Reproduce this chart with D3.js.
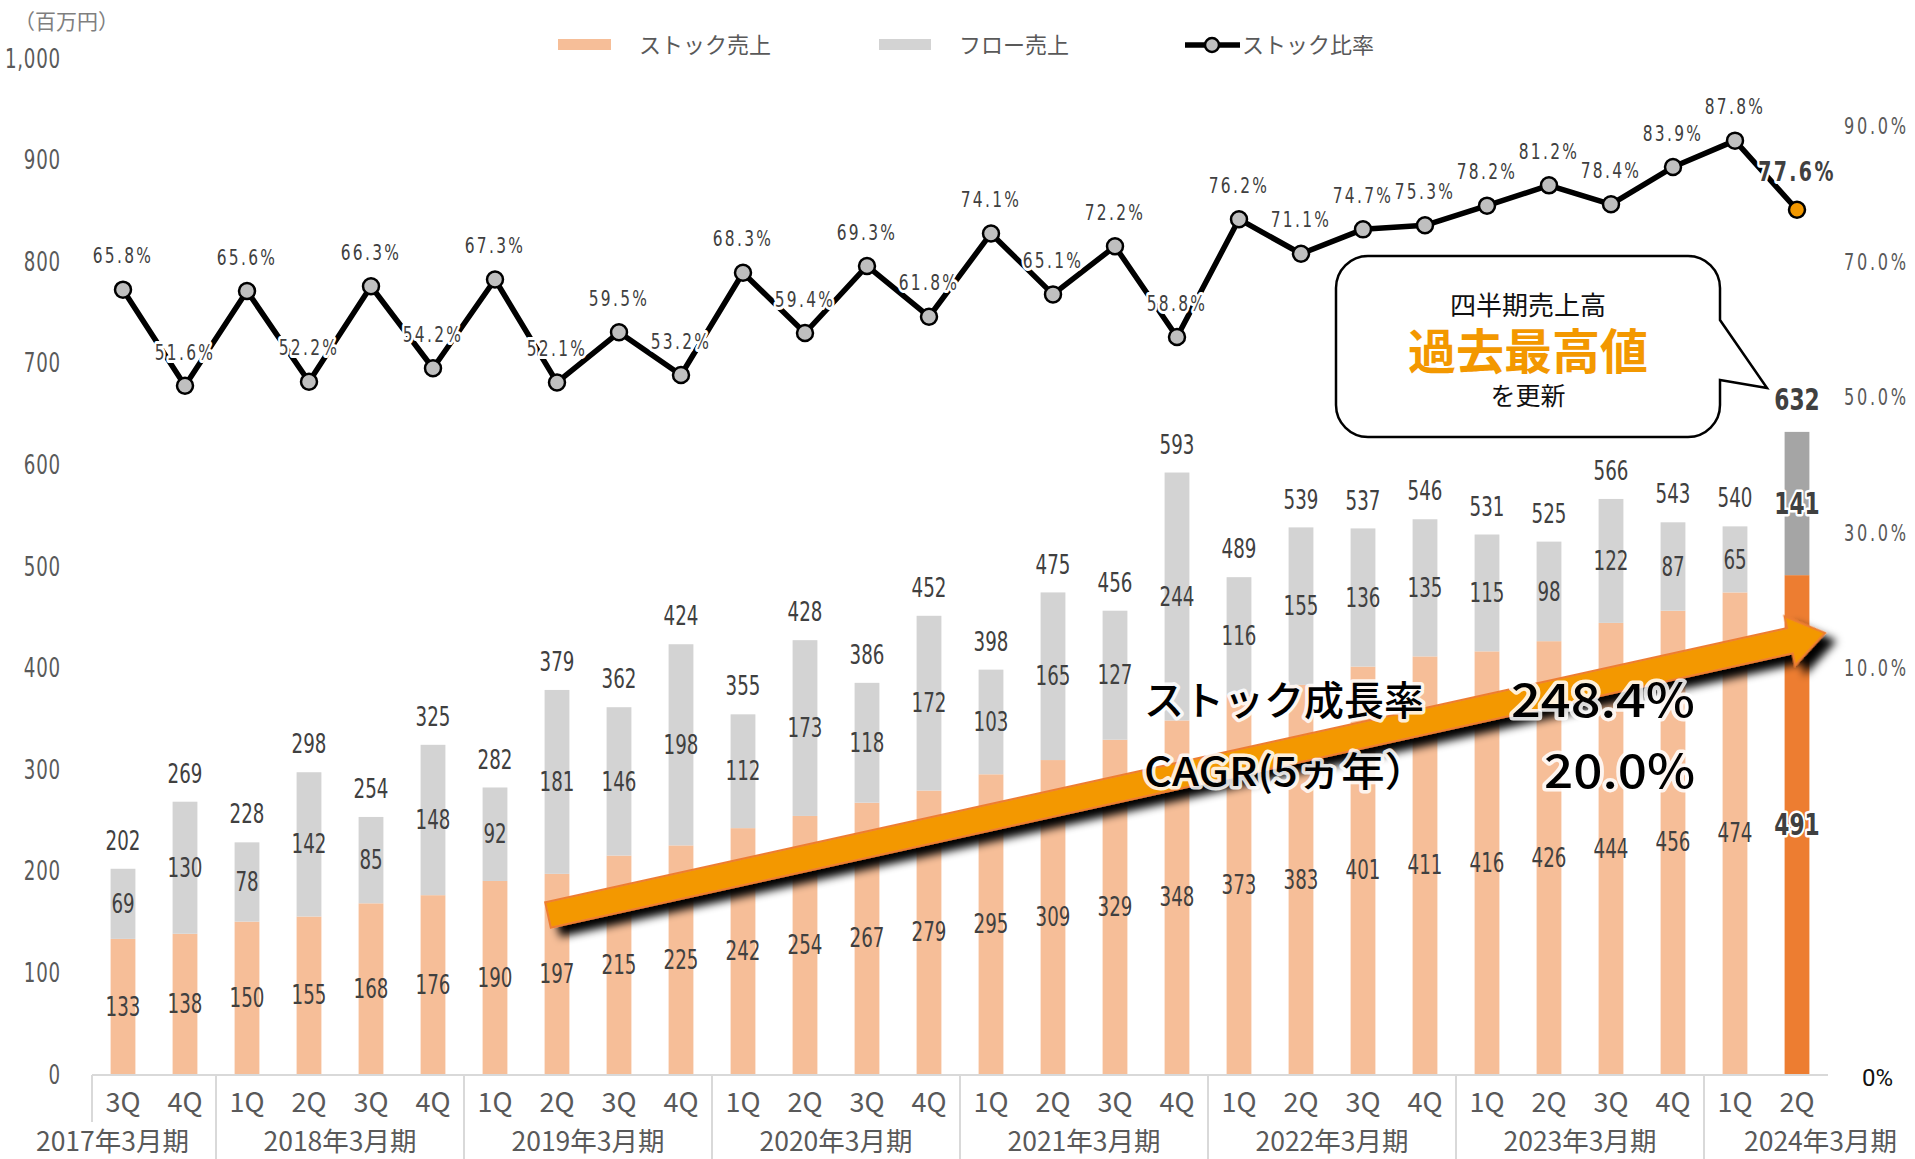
<!DOCTYPE html>
<html><head><meta charset="utf-8">
<script src="https://cdn.jsdelivr.net/npm/d3@7"></script>
<style>
html,body{margin:0;padding:0;background:#fff;}
svg{display:block;}
</style></head><body>
<svg id="chart" width="1915" height="1159"></svg>
<script>
// ---------- data ----------
const quarters = ["3Q","4Q","1Q","2Q","3Q","4Q","1Q","2Q","3Q","4Q","1Q","2Q","3Q","4Q","1Q","2Q","3Q","4Q","1Q","2Q","3Q","4Q","1Q","2Q","3Q","4Q","1Q","2Q"];
const years = ["2017年3月期","2018年3月期","2019年3月期","2020年3月期","2021年3月期","2022年3月期","2023年3月期","2024年3月期"];
const yearSizes = [2,4,4,4,4,4,4,2];
const stock = [133,138,150,155,168,176,190,197,215,225,242,254,267,279,295,309,329,348,373,383,401,411,416,426,444,456,474,491];
const flow  = [69,130,78,142,85,148,92,181,146,198,112,173,118,172,103,165,127,244,116,155,136,135,115,98,122,87,65,141];
const totals = [202,269,228,298,254,325,282,379,362,424,355,428,386,452,398,475,456,593,489,539,537,546,531,525,566,543,540,632];
const ratio = [65.8,51.6,65.6,52.2,66.3,54.2,67.3,52.1,59.5,53.2,68.3,59.4,69.3,61.8,74.1,65.1,72.2,58.8,76.2,71.1,74.7,75.3,78.2,81.2,78.4,83.9,87.8,77.6];
const leftTicks = [0,100,200,300,400,500,600,700,800,900,1000];
const rightTicks = [10,30,50,70,90];
const legendLabels = ["ストック売上","フロー売上","ストック比率"];
const unitLabel = "（百万円）";
const calloutLines = ["四半期売上高","過去最高値","を更新"];
const arrowTexts = [["ストック成長率","248.4%"],["CAGR(5ヵ年）","20.0%"]];

// ---------- setup ----------
const svg = d3.select("#chart");
const N = stock.length;
const NUM = '"DejaVu Sans Condensed","DejaVu Sans",sans-serif';
const JP = '"Noto Sans CJK JP","Noto Sans",sans-serif';
const C_STOCK = "#F6BE98", C_FLOW = "#D3D3D3", C_STOCK_LAST = "#ED7D31", C_FLOW_LAST = "#A5A5A5";
const LBL = "#404040", TICK = "#595959";
const SX = 0.78; // horizontal squeeze for the narrow numeric font

const x = d3.scaleBand().domain(d3.range(N)).range([92,1828]).padding(0);
const step = x.step();
const cx = i => x(i) + step/2;
const barW = step*0.4;
const y = d3.scaleLinear().domain([0,1000]).range([1074,58]);
const yR = d3.scaleLinear().domain([-50,100]).range([1074,58]);

const defs = svg.append("defs");
const f = defs.append("filter").attr("id","shadow").attr("x","-10%").attr("y","-60%").attr("width","125%").attr("height","260%");
f.append("feGaussianBlur").attr("in","SourceAlpha").attr("stdDeviation",4).attr("result","b");
f.append("feOffset").attr("in","b").attr("dx",8).attr("dy",10).attr("result","o");
const fm = f.append("feMerge"); fm.append("feMergeNode").attr("in","o"); fm.append("feMergeNode").attr("in","SourceGraphic");

// ---------- axes ----------
const gL = svg.append("g").attr("transform","translate(61,0)")
  .call(d3.axisLeft(y).tickValues(leftTicks).tickSize(0).tickPadding(0).tickFormat(d3.format(",")));
gL.select(".domain").remove();
gL.selectAll("text").attr("font-family",NUM).attr("font-size",26).attr("fill",TICK).attr("letter-spacing",1)
  .attr("dy","0.35em").attr("transform",`scale(${SX},1)`);

const gR = svg.append("g").attr("transform","translate(1844,0)")
  .call(d3.axisRight(yR).tickValues(rightTicks).tickSize(0).tickPadding(0).tickFormat(d=>d.toFixed(1)+"%"));
gR.select(".domain").remove();
gR.selectAll("text").attr("font-family",NUM).attr("font-size",23).attr("fill",TICK).attr("letter-spacing",3.5)
  .attr("dy","0.35em").attr("transform",`scale(${SX},1)`);
svg.append("text").attr("x",1862).attr("y",1078).attr("dy","0.35em").attr("font-family","Roboto,sans-serif").attr("font-size",24).attr("fill","#111").text("0%");

svg.append("text").attr("x",14).attr("y",22).attr("dy","0.35em").attr("font-family",JP).attr("font-size",21).attr("fill","#7F7F7F").text(unitLabel);

// category axis
const gx = svg.append("g");
gx.append("line").attr("x1",x(0)).attr("x2",x(N-1)+step).attr("y1",y(0)+1).attr("y2",y(0)+1).attr("stroke","#D9D9D9").attr("stroke-width",2);
let start = 0;
const groups = yearSizes.map((s,gi)=>{ const g={gi,start,end:start+s-1}; start+=s; return g; });
gx.append("line").attr("x1",x(0)).attr("x2",x(0)).attr("y1",y(0)+1).attr("y2",1122).attr("stroke","#D9D9D9").attr("stroke-width",2);
groups.slice(1).forEach(g=>{
  gx.append("line").attr("x1",x(g.start)).attr("x2",x(g.start)).attr("y1",y(0)+1).attr("y2",1159).attr("stroke","#D9D9D9").attr("stroke-width",2);
});
gx.selectAll("text.q").data(quarters).join("text").attr("class","q")
  .attr("x",(d,i)=>cx(i)).attr("y",1103).attr("dy","0.35em").attr("text-anchor","middle")
  .attr("font-family",JP).attr("font-size",27).attr("fill",TICK).text(d=>d);
gx.selectAll("text.yr").data(groups).join("text").attr("class","yr")
  .attr("x",g=> g.gi===0 ? x(g.end)+step-27 : g.gi===groups.length-1 ? x(g.start)+40 : (x(g.start)+x(g.end)+step)/2)
  .attr("text-anchor",g=> g.gi===0 ? "end" : g.gi===groups.length-1 ? "start" : "middle")
  .attr("y",1142).attr("dy","0.35em").attr("font-family",JP).attr("font-size",26.5).attr("fill",TICK).text(g=>years[g.gi]);

// ---------- bars ----------
const gb = svg.append("g");
gb.selectAll("rect.s").data(stock).join("rect").attr("class","s")
  .attr("x",(d,i)=>cx(i)-barW/2).attr("width",barW)
  .attr("y",d=>y(d)).attr("height",d=>y(0)-y(d))
  .attr("fill",(d,i)=> i===N-1 ? C_STOCK_LAST : C_STOCK);
gb.selectAll("rect.f").data(flow).join("rect").attr("class","f")
  .attr("x",(d,i)=>cx(i)-barW/2).attr("width",barW)
  .attr("y",(d,i)=>y(stock[i]+d)).attr("height",(d,i)=>y(stock[i])-y(stock[i]+d))
  .attr("fill",(d,i)=> i===N-1 ? C_FLOW_LAST : C_FLOW);

const isLast = i => i===N-1;
function numLabel(sel, fx, fy){
  sel.attr("transform",(d,i)=>`translate(${fx(d,i)},${fy(d,i)}) scale(${SX},1)`)
    .attr("text-anchor","middle").attr("dy","0.35em").attr("font-family",NUM)
    .attr("font-size",(d,i)=> isLast(i) ? 31 : 26).attr("font-weight",(d,i)=> isLast(i) ? "bold" : "normal")
    .attr("fill",LBL)
    .attr("stroke",(d,i)=> isLast(i) ? "#fff" : "none").attr("stroke-width",5).attr("stroke-linejoin","round")
    .attr("paint-order","stroke");
}
gb.selectAll("text.sl").data(stock).join("text").attr("class","sl").text(d=>d)
  .call(numLabel,(d,i)=>cx(i),d=>(y(0)+y(d))/2);
gb.selectAll("text.fl").data(flow).join("text").attr("class","fl").text(d=>d)
  .call(numLabel,(d,i)=>cx(i),(d,i)=>(y(stock[i])+y(stock[i]+d))/2);
gb.selectAll("text.tl").data(totals).join("text").attr("class","tl").text(d=>d)
  .call(numLabel,(d,i)=>cx(i),(d,i)=>y(stock[i]+flow[i]) - (isLast(i)?33:28));

// ---------- line ----------
const gLn = svg.append("g");
gLn.append("path").datum(ratio)
  .attr("d",d3.line().x((d,i)=>cx(i)).y(d=>yR(d)))
  .attr("fill","none").attr("stroke","#000").attr("stroke-width",5.5).attr("stroke-linejoin","round");
gLn.selectAll("circle").data(ratio).join("circle")
  .attr("cx",(d,i)=>cx(i)).attr("cy",d=>yR(d)).attr("r",8)
  .attr("fill",(d,i)=> isLast(i) ? "#F39800" : "#BFBFBF").attr("stroke","#000").attr("stroke-width",2.5);
gLn.selectAll("text").data(ratio).join("text")
  .attr("transform",(d,i)=>`translate(${cx(i)},${yR(d)-(isLast(i)?38:34)}) scale(${SX},1)`)
  .attr("dy","0.35em").attr("text-anchor","middle")
  .attr("font-family",NUM).attr("font-size",(d,i)=>isLast(i)?27:22).attr("font-weight",(d,i)=>isLast(i)?"bold":"normal")
  .attr("letter-spacing",3).attr("fill",LBL)
  .attr("stroke","#fff").attr("stroke-width",6).attr("stroke-linejoin","round").attr("paint-order","stroke")
  .text(d=>d.toFixed(1)+"%");

// ---------- legend ----------
const lg = svg.append("g").attr("font-family",JP).attr("font-size",22).attr("fill",TICK);
lg.append("rect").attr("x",558).attr("y",39).attr("width",53).attr("height",11).attr("fill",C_STOCK);
lg.append("text").attr("x",639).attr("y",45).attr("dy","0.35em").text(legendLabels[0]);
lg.append("rect").attr("x",879).attr("y",39).attr("width",52).attr("height",11).attr("fill",C_FLOW);
lg.append("text").attr("x",959).attr("y",45).attr("dy","0.35em").text(legendLabels[1]);
lg.append("line").attr("x1",1185).attr("x2",1240).attr("y1",45).attr("y2",45).attr("stroke","#000").attr("stroke-width",5.5);
lg.append("circle").attr("cx",1212).attr("cy",45).attr("r",7).attr("fill","#BFBFBF").attr("stroke","#000").attr("stroke-width",2.5);
lg.append("text").attr("x",1242).attr("y",45).attr("dy","0.35em").text(legendLabels[2]);

// ---------- arrow annotation ----------
const tail = [548,915], tip = [1825,633];
const ang = Math.atan2(tip[1]-tail[1], tip[0]-tail[0])*180/Math.PI;
const L = Math.hypot(tip[0]-tail[0], tip[1]-tail[1]);
const hw = 13, hh = 25, hl = 36;
svg.append("g").attr("transform",`translate(${tail[0]},${tail[1]}) rotate(${ang})`)
  .append("path")
  .attr("d",`M0,${-hw} L${L-hl},${-hw} L${L-hl},${-hh} L${L},0 L${L-hl},${hh} L${L-hl},${hw} L0,${hw} Z`)
  .attr("fill","#F39800").attr("stroke","#ED7D31").attr("stroke-width",2).attr("stroke-linejoin","miter")
  .attr("filter","url(#shadow)");

const ga = svg.append("g").attr("font-family",JP).attr("font-size",40).attr("font-weight",500).attr("fill","#000")
  .attr("stroke","#fff").attr("stroke-width",7).attr("stroke-linejoin","round").attr("paint-order","stroke").attr("stroke-opacity",0.85);
const leftLen = [null, 284], rightLen = [184, 151];
arrowTexts.forEach((row,k)=>{
  const yy = 701 + k*71;
  const t1 = ga.append("text").attr("x",1144).attr("y",yy).attr("dy","0.35em").text(row[0]);
  if (leftLen[k]) t1.attr("textLength",leftLen[k]).attr("lengthAdjust","spacingAndGlyphs");
  ga.append("text").attr("x",1695).attr("y",yy).attr("dy","0.35em").attr("text-anchor","end").attr("font-size",46)
    .attr("textLength",rightLen[k]).attr("lengthAdjust","spacingAndGlyphs").text(row[1]);
});

// ---------- callout ----------
const bx0=1336, by0=256, bx1=1720, by1=437, r=32;
const cp = d3.path();
cp.moveTo(bx0+r,by0);
cp.lineTo(bx1-r,by0);
cp.arcTo(bx1,by0,bx1,by0+r,r);
cp.lineTo(bx1,320);
cp.lineTo(1767,388);
cp.lineTo(bx1,380);
cp.lineTo(bx1,by1-r);
cp.arcTo(bx1,by1,bx1-r,by1,r);
cp.lineTo(bx0+r,by1);
cp.arcTo(bx0,by1,bx0,by1-r,r);
cp.lineTo(bx0,by0+r);
cp.arcTo(bx0,by0,bx0+r,by0,r);
cp.closePath();
svg.append("path").attr("d",cp.toString()).attr("fill","#fff").attr("stroke","#000").attr("stroke-width",2.5);
const ct = svg.append("g").attr("font-family",JP).attr("text-anchor","middle");
ct.append("text").attr("x",1528).attr("y",306).attr("dy","0.35em").attr("font-size",26).attr("fill","#111").text(calloutLines[0]);
ct.append("text").attr("x",1528).attr("y",352).attr("dy","0.35em").attr("font-size",48).attr("font-weight","bold").attr("fill","#F39800").text(calloutLines[1]);
ct.append("text").attr("x",1528).attr("y",396).attr("dy","0.35em").attr("font-size",25).attr("fill","#111").text(calloutLines[2]);
</script>
</body></html>
